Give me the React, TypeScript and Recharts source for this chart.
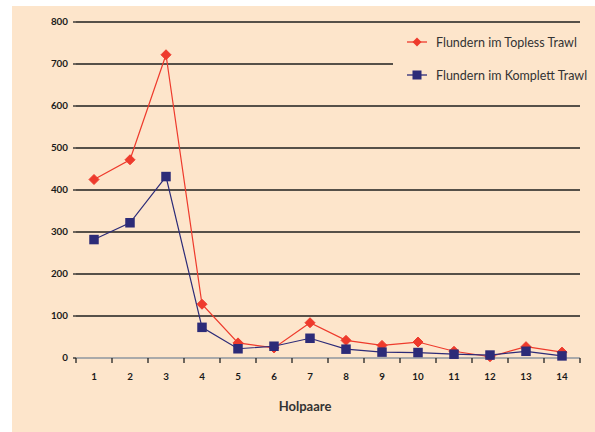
import React from 'react';
import { LineChart, Line, XAxis, YAxis, CartesianGrid, Legend } from 'recharts';

const categories = ['1', '2', '3', '4', '5', '6', '7', '8', '9', '10', '11', '12', '13', '14'];
const toplessValues = [425, 472, 722, 128, 36, 24, 84, 42, 30, 38, 16, 3, 27, 14];
const komplettValues = [282, 322, 432, 73, 22, 28, 47, 21, 14, 13, 9, 7, 16, 5];
const yTicks = [0, 100, 200, 300, 400, 500, 600, 700, 800];
const seriesNames = ['Flundern im Topless Trawl', 'Flundern im Komplett Trawl'];
const xTitle = 'Holpaare';

const PEACH = '#FDE5CB';
const RED = '#EE3A2C';
const NAVY = '#2C2B78';
const FONT = 'Lato, "Open Sans", sans-serif';

const data = categories.map((c, i) => ({
  x: i + 1,
  label: c,
  topless: toplessValues[i],
  komplett: komplettValues[i],
}));

// tick boundaries between categories
const boundaries = [0.5, ...categories.map((_, i) => i + 1.5)];

const Diamond = (props: any) => {
  const { cx, cy } = props;
  if (cx == null || cy == null) return null;
  const r = 5;
  return (
    <polygon
      points={`${cx},${cy - r} ${cx + r},${cy} ${cx},${cy + r} ${cx - r},${cy}`}
      fill={RED}
      stroke={RED}
      strokeWidth={1}
    />
  );
};

const Square = (props: any) => {
  const { cx, cy } = props;
  if (cx == null || cy == null) return null;
  const s = 9.5;
  return <rect x={cx - s / 2} y={cy - s / 2} width={s} height={s} fill={NAVY} />;
};

const XTick = (props: any) => {
  const { x, y, payload } = props;
  const idx = Math.round(payload.value - 0.5);
  if (idx < 0 || idx >= categories.length) return <g />;
  return (
    <text
      x={x + 18}
      y={y + 15}
      textAnchor="middle"
      fontFamily={FONT}
      fontWeight={700}
      fontSize={9.8}
      fill="#1a1a1a"
    >
      {categories[idx]}
    </text>
  );
};

const LegendIcon = ({ kind }: { kind: 'diamond' | 'square' }) => (
  <svg width={22} height={12} style={{ display: 'block' }}>
    <line x1={1} y1={6} x2={21} y2={6} stroke={kind === 'diamond' ? RED : NAVY} strokeWidth={1.3} />
    {kind === 'diamond' ? (
      <polygon points="11,1.5 15.5,6 11,10.5 6.5,6" fill={RED} />
    ) : (
      <rect x={6.5} y={1.5} width={9} height={9} fill={NAVY} />
    )}
  </svg>
);

const renderLegend = () => (
  <div style={{ paddingLeft: 13, paddingBottom: 4 }}>
    {seriesNames.map((name, i) => (
      <div
        key={name}
        style={{
          display: 'flex',
          alignItems: 'center',
          height: 24,
          marginTop: i === 0 ? 0 : 9,
        }}
      >
        <LegendIcon kind={i === 0 ? 'diamond' : 'square'} />
        <span
          style={{
            marginLeft: 8,
            fontFamily: FONT,
            fontSize: 12.5,
            color: '#333',
            whiteSpace: 'nowrap',
          }}
        >
          {name}
        </span>
      </div>
    ))}
  </div>
);

export default function App() {
  return (
    <div style={{ position: 'absolute', left: 0, top: 0, width: 595, height: 432, background: '#fff' }}>
      <div style={{ position: 'absolute', left: 12, top: 6, width: 583, height: 426, background: PEACH }} />
      <div style={{ position: 'absolute', left: 0, top: 0 }}>
        <LineChart
          width={595}
          height={432}
          data={data}
          margin={{ top: 22, right: 15, bottom: 0, left: 0 }}
        >
          <CartesianGrid horizontal vertical={false} stroke="#1e1e1e" strokeWidth={1.3} />
          <XAxis
            dataKey="x"
            type="number"
            domain={[0.5, 14.5]}
            ticks={boundaries}
            interval={0}
            height={74}
            axisLine={{ stroke: '#aaa', strokeWidth: 2.2 }}
            tickLine={{ stroke: '#222', strokeWidth: 1.3 }}
            tickSize={5}
            tick={<XTick />}
            label={{
              value: xTitle,
              position: 'insideBottom',
              offset: 21,
              dx: -23,
              style: { fontFamily: FONT, fontWeight: 700, fontSize: 13, fill: '#333' },
            }}
          />
          <YAxis
            type="number"
            domain={[0, 800]}
            ticks={yTicks}
            width={76}
            axisLine={false}
            tickLine={{ stroke: '#222', strokeWidth: 1.3 }}
            tickSize={3}
            tickMargin={5}
            tick={{ fontFamily: FONT, fontWeight: 700, fontSize: 9.8, fill: '#1a1a1a' }}
          />
          <Legend
            verticalAlign="middle"
            align="center"
            content={renderLegend}
            wrapperStyle={{ left: 393, top: 30, width: 202, background: PEACH }}
          />
          <Line
            dataKey="topless"
            name={seriesNames[0]}
            type="linear"
            stroke={RED}
            strokeWidth={1.2}
            dot={<Diamond />}
            activeDot={false}
            isAnimationActive={false}
          />
          <Line
            dataKey="komplett"
            name={seriesNames[1]}
            type="linear"
            stroke={NAVY}
            strokeWidth={1.2}
            dot={<Square />}
            activeDot={false}
            isAnimationActive={false}
          />
        </LineChart>
      </div>
    </div>
  );
}
